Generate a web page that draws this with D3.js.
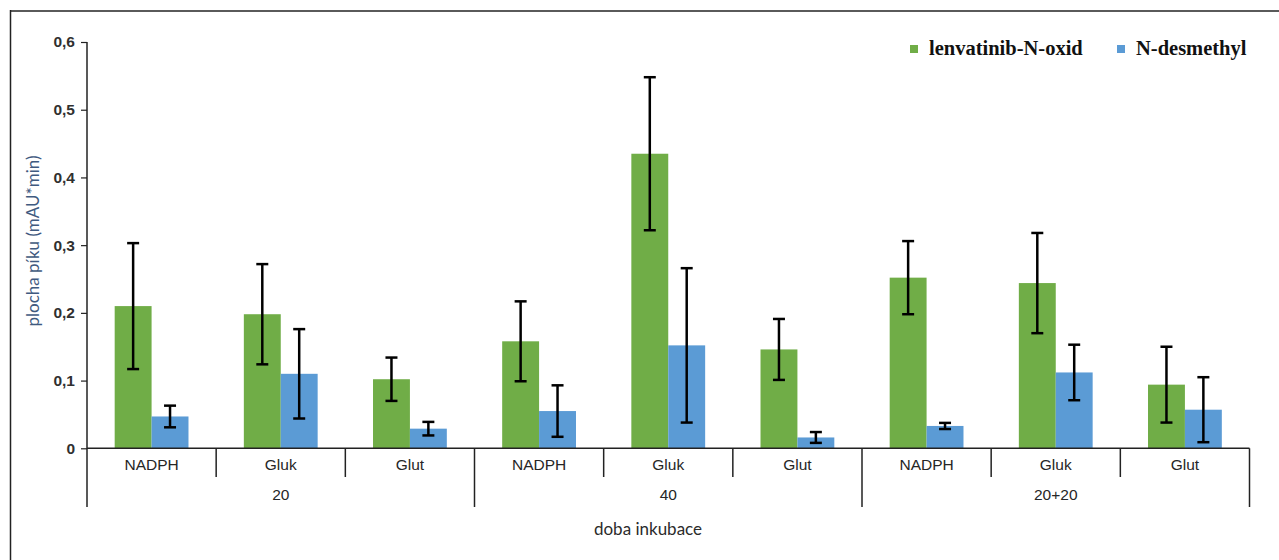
<!DOCTYPE html>
<html>
<head>
<meta charset="utf-8">
<script src="https://cdn.jsdelivr.net/npm/d3@7/dist/d3.min.js"></script>
<style>
  html, body { margin: 0; padding: 0; background: #fff; }
  svg { display: block; }
</style>
</head>
<body>
<svg id="chart" width="1279" height="560"></svg>
<script>
// Incubation groups and cofactor categories
const groups = ["20", "40", "20+20"];
const cofactors = ["NADPH", "Gluk", "Glut"];
const seriesNames = ["lenvatinib-N-oxid", "N-desmethyl"];

// Peak areas (mAU*min) per category, in order 20/NADPH, 20/Gluk, 20/Glut, 40/..., 20+20/...
const oxidValues = [0.210, 0.198, 0.102, 0.158, 0.435, 0.146, 0.252, 0.244, 0.094];
const oxidErrors = [0.093, 0.074, 0.032, 0.059, 0.113, 0.045, 0.054, 0.074, 0.056];
const desmValues = [0.047, 0.110, 0.029, 0.055, 0.152, 0.016, 0.033, 0.112, 0.057];
const desmErrors = [0.016, 0.066, 0.010, 0.038, 0.114, 0.008, 0.0045, 0.041, 0.048];

const yTicks = [0, 0.1, 0.2, 0.3, 0.4, 0.5, 0.6];
const colors = ["#70AD47", "#5B9BD5"];

const svg = d3.select("#chart");

// Chart frame (top and left edges)
svg.append("line").attr("x1", 10).attr("x2", 1279).attr("y1", 11).attr("y2", 11)
  .attr("stroke", "#5a5a5a").attr("stroke-width", 2);
svg.append("line").attr("x1", 10.5).attr("x2", 10.5).attr("y1", 10).attr("y2", 560)
  .attr("stroke", "#222").attr("stroke-width", 1.5);

const plotLeft = 87, plotRight = 1249.5, plotTop = 42, plotBase = 448.3;

const cats = [];
groups.forEach(g => cofactors.forEach(c => cats.push({ group: g, cof: c, key: g + "|" + c })));

const x0 = d3.scaleBand().domain(cats.map(d => d.key)).range([plotLeft, plotRight]).padding(0);
const x1 = d3.scaleBand().domain(seriesNames).range([0, x0.bandwidth()])
  .paddingInner(0).paddingOuter(0.75);
const y = d3.scaleLinear().domain([0, 0.6]).range([plotBase, plotTop]);

const rows = cats.map((d, i) => ({
  key: d.key,
  vals: [
    { s: seriesNames[0], v: oxidValues[i], e: oxidErrors[i] },
    { s: seriesNames[1], v: desmValues[i], e: desmErrors[i] }
  ]
}));

// Bars
const gBars = svg.append("g");
rows.forEach(r => {
  gBars.selectAll(null).data(r.vals).enter().append("rect")
    .attr("x", d => x0(r.key) + x1(d.s))
    .attr("width", x1.bandwidth())
    .attr("y", d => y(d.v))
    .attr("height", d => y(0) - y(d.v))
    .attr("fill", (d, i) => colors[i]);
});

// Error bars
const capW = 12;
rows.forEach(r => {
  r.vals.forEach(d => {
    const cx = x0(r.key) + x1(d.s) + x1.bandwidth() / 2;
    const g = svg.append("g").attr("stroke", "#000").attr("stroke-width", 2.5);
    g.append("line").attr("x1", cx).attr("x2", cx).attr("y1", y(d.v + d.e)).attr("y2", y(d.v - d.e));
    g.append("line").attr("x1", cx - capW / 2).attr("x2", cx + capW / 2).attr("y1", y(d.v + d.e)).attr("y2", y(d.v + d.e));
    g.append("line").attr("x1", cx - capW / 2).attr("x2", cx + capW / 2).attr("y1", y(d.v - d.e)).attr("y2", y(d.v - d.e));
  });
});

// Y axis
const czLocale = d3.formatLocale({ decimal: ",", thousands: " ", grouping: [3], currency: ["", " Kč"] });
const yAxis = d3.axisLeft(y).tickValues(yTicks).tickSize(6).tickSizeOuter(0).tickPadding(6)
  .tickFormat(czLocale.format(".1~f"));
const gy = svg.append("g").attr("transform", `translate(${plotLeft},0)`).call(yAxis);
gy.select(".domain").remove();
gy.selectAll(".tick line").attr("stroke", "#222").attr("stroke-width", 1.2);
gy.selectAll(".tick text").attr("font-family", "Liberation Sans, Arial, sans-serif")
  .attr("font-size", 15.5).attr("fill", "#303030").attr("font-weight", "bold");

// Vertical axis line runs down through the category rows
svg.append("line").attr("x1", plotLeft).attr("x2", plotLeft).attr("y1", plotTop).attr("y2", 507)
  .attr("stroke", "#222").attr("stroke-width", 1.5);

// Baseline
svg.append("line").attr("x1", plotLeft).attr("x2", plotRight).attr("y1", plotBase).attr("y2", plotBase)
  .attr("stroke", "#222").attr("stroke-width", 1.5);

// Category separators and labels
const axisFont = "Liberation Sans, Arial, sans-serif";
cats.forEach((d, i) => {
  const xr = x0(d.key) + x0.bandwidth();
  const isGroupEnd = (i % cofactors.length) === cofactors.length - 1;
  svg.append("line").attr("x1", xr).attr("x2", xr).attr("y1", plotBase).attr("y2", isGroupEnd ? 507 : 477)
    .attr("stroke", "#222").attr("stroke-width", 1.5);
  svg.append("text").attr("x", x0(d.key) + x0.bandwidth() / 2).attr("y", 465).attr("dy", "0.35em")
    .attr("text-anchor", "middle").attr("font-family", axisFont).attr("font-size", 15.5)
    .attr("fill", "#262626").text(d.cof);
});

// Group labels
groups.forEach(g => {
  const first = x0(g + "|" + cofactors[0]);
  const last = x0(g + "|" + cofactors[cofactors.length - 1]) + x0.bandwidth();
  svg.append("text").attr("x", (first + last) / 2).attr("y", 495).attr("dy", "0.35em")
    .attr("text-anchor", "middle").attr("font-family", axisFont).attr("font-size", 15.5)
    .attr("fill", "#262626").text(g);
});

// Axis titles
svg.append("text").attr("x", 648).attr("y", 529).attr("dy", "0.35em")
  .attr("text-anchor", "middle").attr("font-family", "Lato, Open Sans, sans-serif").attr("font-size", 17)
  .attr("fill", "#2b2b2b").text("doba inkubace");

svg.append("text").attr("transform", `translate(33,241) rotate(-90)`).attr("dy", "0.35em")
  .attr("text-anchor", "middle").attr("font-family", "Lato, Open Sans, sans-serif").attr("font-size", 17)
  .attr("fill", "#3f5a80").text("plocha píku (mAU*min)");

// Legend
const legend = [
  { name: seriesNames[0], color: colors[0], x: 910 },
  { name: seriesNames[1], color: colors[1], x: 1117 }
];
legend.forEach(l => {
  svg.append("rect").attr("x", l.x).attr("y", 45).attr("width", 8).attr("height", 8).attr("fill", l.color);
  svg.append("text").attr("x", l.x + 19).attr("y", 55).attr("font-family", "Liberation Serif, Times New Roman, serif")
    .attr("font-weight", "bold").attr("font-size", 20.5).attr("fill", "#111").text(l.name);
});
</script>
</body>
</html>
